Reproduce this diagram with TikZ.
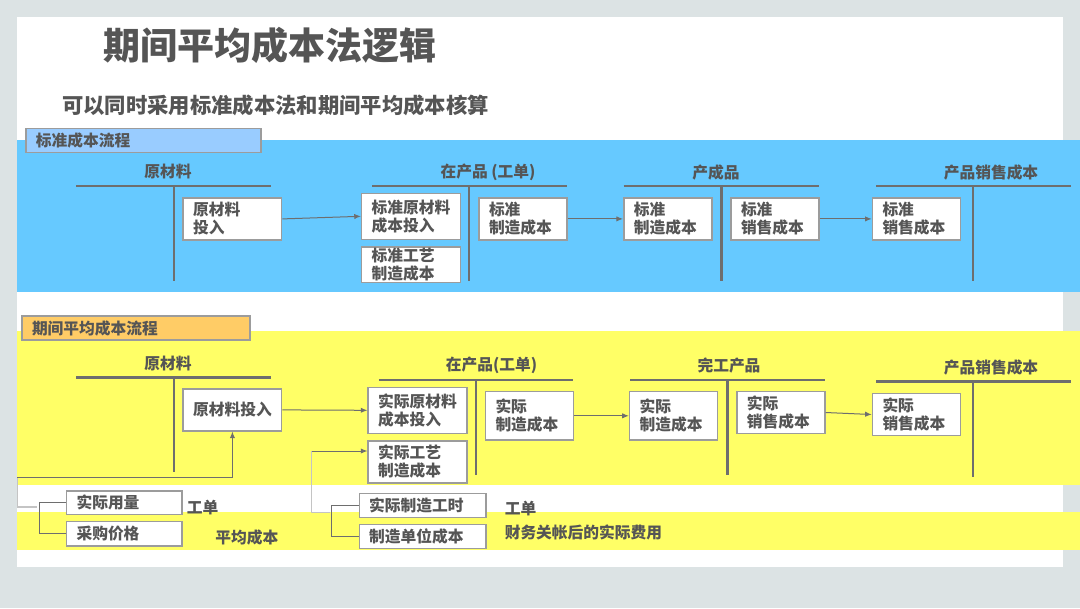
\documentclass[tikz,border=0pt]{standalone}
\usepackage{fontspec}
\setmainfont{Noto Sans CJK SC}
\usepackage{xcolor}
\usepackage{tikz}
\usetikzlibrary{arrows.meta,positioning}
\definecolor{bggray}{HTML}{DCE3E4}
\definecolor{bandblue}{HTML}{66C9FF}
\definecolor{tagblue}{HTML}{99CCFF}
\definecolor{bandyellow}{HTML}{FFFF66}
\definecolor{tagorange}{HTML}{FFCC66}
\definecolor{inkgray}{HTML}{555555}
\definecolor{linegray}{HTML}{6E6E6E}
\definecolor{boxgray}{HTML}{9C9C9C}
\definecolor{linkgray}{HTML}{C4C4C4}
\tikzset{
    cell/.style={
        rectangle,
        draw=boxgray,
        fill=white,
        line width=1.1pt,
        align=left,
        inner xsep=7.5pt,
        inner ysep=0pt,
        text=inkgray,
        font=\bfseries\fontsize{11.8}{13.5}\selectfont
    },
    wide/.style={cell, text width=59pt},
    narrow/.style={cell, text width=51pt},
    head/.style={inner sep=0pt, text=inkgray, font=\bfseries\fontsize{11.8}{13.5}\selectfont},
    note/.style={head, anchor=west},
    tag/.style={
        rectangle,
        draw=boxgray,
        line width=1.1pt,
        align=left,
        inner xsep=7.5pt,
        inner ysep=0pt,
        minimum height=18pt,
        text=inkgray,
        font=\bfseries\fontsize{11.8}{13.5}\selectfont
    },
    tline/.style={draw=linegray, line width=2pt},
    flow/.style={-{Latex[length=5pt,width=4pt]}, draw=linegray, line width=0.75pt},
    group/.style={draw=linegray, line width=0.9pt},
    link/.style={draw=linkgray, line width=0.9pt}
}

\begin{document}
\begin{tikzpicture}[x=0.75pt, y=-0.75pt]
        \useasboundingbox (0,0) rectangle (1080,608);
        \fill[bggray] (0,0) rectangle (1080,608);
        \fill[white] (17,17) rectangle (1062.5,567.3);
        \fill[bandblue] (17,140) rectangle (1080,291.7);
        \fill[bandyellow] (17,331) rectangle (1080,485);
        \fill[bandyellow] (17,512) rectangle (1080,550);

        \node[head, font=\bfseries\fontsize{27.75}{30}\selectfont] (title) at (269.5,45.5)
            {期间平均成本法逻辑};
        \node[head, font=\bfseries\fontsize{16}{18}\selectfont] (subtitle) at (275.5,105.5)
            {可以同时采用标准成本法和期间平均成本核算};
        \node[tag, fill=tagblue, text width=161.25pt] (stdTag) at (143.5,140.3) {标准成本流程};
        \node[tag, fill=tagorange, text width=156pt] (avgTag) at (136,328) {期间平均成本流程};

        \draw[tline] (76.4,186) -- (271.3,186) (174,186) -- (174,281);
        \draw[tline] (372,186) -- (566.9,186) (469,186) -- (469,281);
        \draw[tline] (623.7,186) -- (819,186) (721.5,186) -- (721.5,281);
        \draw[tline] (876,186) -- (1071,186) (973,186) -- (973,281);
        \draw[tline] (76.4,377.3) -- (271.3,377.3) (174,377.3) -- (174,472);
        \draw[tline] (378.8,380) -- (573.4,380) (476,380) -- (476,475);
        \draw[tline] (630,380) -- (825,380) (727.7,380) -- (727.7,475);
        \draw[tline] (876,381.7) -- (1071,381.7) (973,381.7) -- (973,476.7);

        \node[head] (stdRawHead) at (168,172) {原材料};
        \node[head] (stdWipHead) at (488,172) {在产品 (工单)};
        \node[head] (stdFinHead) at (716,172) {产成品};
        \node[head] (stdSaleHead) at (991,172) {产品销售成本};
        \node[head] (avgRawHead) at (168,364) {原材料};
        \node[head] (avgWipHead) at (491.5,365) {在产品(工单)};
        \node[head] (avgFinHead) at (729,366) {完工产品};
        \node[head] (avgSaleHead) at (991,367) {产品销售成本};

        \node[wide, minimum height=31.7pt] (stdRawIn) at (232.4,218.9) {原材料\\投入};
        \node[wide, minimum height=34.5pt] (stdWipMat) at (411,216.3) {标准原材料\\成本投入};
        \node[wide, minimum height=26.8pt, below=4.5pt of stdWipMat] (stdWipProc)
            {标准工艺\\制造成本};
        \node[narrow, minimum height=31.7pt] (stdWipOut) at (523,218.9) {标准\\制造成本};
        \node[narrow, minimum height=31.7pt] (stdFinIn) at (667.8,218.9) {标准\\制造成本};
        \node[narrow, minimum height=31.7pt] (stdFinOut) at (775,218.9) {标准\\销售成本};
        \node[narrow, minimum height=31.7pt] (stdSale) at (916.5,218.9) {标准\\销售成本};

        \node[wide, align=center, minimum height=31.3pt] (avgRawIn) at (232.4,409.9) {原材料投入};
        \node[wide, minimum height=34.5pt] (avgWipMat) at (417.5,410.3) {实际原材料\\成本投入};
        \node[wide, minimum height=31.8pt, below=4.5pt of avgWipMat] (avgWipProc)
            {实际工艺\\制造成本};
        \node[narrow, minimum height=36.2pt] (avgWipOut) at (529.5,415.8) {实际\\制造成本};
        \node[narrow, minimum height=36.2pt] (avgFinIn) at (673.6,415.8) {实际\\制造成本};
        \node[narrow, minimum height=31.2pt] (avgFinOut) at (780.8,412.5) {实际\\销售成本};
        \node[narrow, minimum height=31.8pt] (avgSale) at (916.5,414.5) {实际\\销售成本};

        \node[cell, text width=71.5pt, minimum height=17.5pt] (usage) at (124.2,502.7) {实际用量};
        \node[cell, text width=71.5pt, minimum height=18.2pt, below=4.3pt of usage] (price)
            {采购价格};
        \node[cell, text width=79.9pt, minimum height=18pt] (hours) at (422.5,505.3) {实际制造工时};
        \node[cell, text width=79.9pt, minimum height=18pt, below=4.3pt of hours] (rate)
            {制造单位成本};
        \node[note] (usageNote) at (186.7,508) {工单};
        \node[note] (priceNote) at (215.2,537) {平均成本};
        \node[note] (hoursNote) at (504.5,509) {工单};
        \node[note] (rateNote) at (504.5,532.7) {财务关帐后的实际费用};

        \draw[flow] (stdRawIn.east) -- (stdWipMat.west);
        \draw[flow] (stdWipOut.east) -- (stdFinIn.west);
        \draw[flow] (stdFinOut.east) -- (stdSale.west);
        \draw[flow] (avgRawIn.east) -- (avgWipMat.west);
        \draw[flow] (avgWipOut.east) -- (avgFinIn.west);
        \draw[flow] (avgFinOut.east) -- (avgSale.west);

        \coordinate (usageJoin) at (36.7,507);
        \coordinate (usageBend) at (17.3,477);
        \coordinate (hoursJoin) at (330,512.5);
        \coordinate (hoursBend) at (311.5,451);
        \draw[group] (usage.west) -- ++(-26.5,0) |- (price.west);
        \draw[link] (usageJoin) -| (usageBend);
        \draw[flow] (usageBend) -| (avgRawIn.south);
        \draw[group] (hours.west) -- ++(-27,0) |- (rate.west);
        \draw[link] (hoursJoin) -| (hoursBend);
        \draw[flow] (hoursBend) -- (hoursBend -| avgWipProc.west);
    \end{tikzpicture}
\end{document}
